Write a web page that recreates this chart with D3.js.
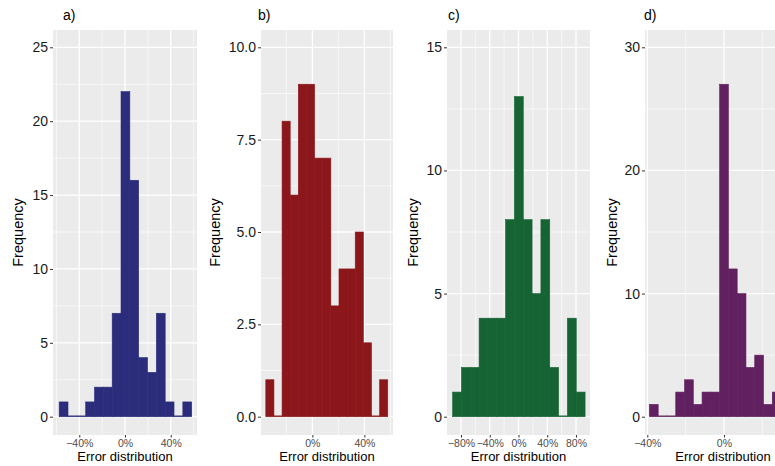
<!DOCTYPE html>
<html>
<head>
<meta charset="utf-8">
<script src="https://cdn.jsdelivr.net/npm/d3@7"></script>
<style>
  body { margin: 0; background: #fff; }
  svg { display: block; font-family: "Liberation Sans", Arial, sans-serif; }
</style>
</head>
<body>
<svg id="chart" width="775" height="466"></svg>
<script>
// histogram bins (lower edges + last upper edge, in % error) and counts
var aEdges  = [-57.6, -49.87, -42.14, -34.41, -26.68, -18.95, -11.22, -3.49, 4.24, 11.97, 19.7, 27.43, 35.16, 42.89, 50.62, 58.35];
var aCounts = [1, 0, 0, 1, 2, 2, 7, 22, 16, 4, 3, 7, 1, 0, 1];

var bEdges  = [-35.8, -29.55, -23.3, -17.05, -10.8, -4.55, 1.7, 7.95, 14.2, 20.45, 26.7, 32.95, 39.2, 45.45, 51.7, 57.95];
var bCounts = [1, 0, 8, 6, 9, 9, 7, 7, 3, 4, 4, 5, 2, 0, 1];

var cEdges  = [-91.7, -79.41, -67.12, -54.83, -42.54, -30.25, -17.96, -5.67, 6.62, 18.91, 31.2, 43.49, 55.78, 68.07, 80.36, 92.65];
var cCounts = [1, 2, 2, 4, 4, 4, 8, 13, 8, 5, 8, 2, 0, 4, 1];

var dEdges  = [-38.9, -34.32, -29.74, -25.16, -20.58, -16.0, -11.42, -6.84, -2.26, 2.32, 6.9, 11.48, 16.06, 20.64, 25.22, 29.8];
var dCounts = [1, 0, 0, 2, 3, 1, 2, 2, 27, 12, 10, 4, 5, 1, 2];

// tick labels
var aYTicks = [0, 5, 10, 15, 20, 25],   aXTicks = [-40, 0, 40];
var bYTicks = [0, 2.5, 5, 7.5, 10],     bXTicks = [-40, 0, 40];
var cYTicks = [0, 5, 10, 15],           cXTicks = [-80, -40, 0, 40, 80];
var dYTicks = [0, 10, 20, 30],          dXTicks = [-40, 0, 40];

var titles = ["a)", "b)", "c)", "d)"];

// layout for each panel
var panels = [
  { title: titles[0], edges: aEdges, counts: aCounts, yTicks: aYTicks, xTicks: aXTicks, yFmt: "d",
    left: 53, right: 197, xLim: [-63, 63], titleX: 63, yTitleX: 18, fill: "#2b2c7b" },
  { title: titles[1], edges: bEdges, counts: bCounts, yTicks: bYTicks, xTicks: bXTicks, yFmt: ".1f",
    left: 261, right: 393, xLim: [-39.5, 62], titleX: 258, yTitleX: 215, fill: "#8b171b" },
  { title: titles[2], edges: cEdges, counts: cCounts, yTicks: cYTicks, xTicks: cXTicks, yFmt: "d",
    left: 447, right: 590, xLim: [-99.5, 99.5], titleX: 448, yTitleX: 413, fill: "#166333" },
  { title: titles[3], edges: dEdges, counts: dCounts, yTicks: dYTicks, xTicks: dXTicks, yFmt: "d",
    left: 645, right: 801, xLim: [-41.2, 40.2], titleX: 644, yTitleX: 612, fill: "#61205f" }
];

var panelTop = 30, panelBottom = 435,
    yZero = 416.7, yTopTick = 47.3;

var svg = d3.select("#chart");

// minor grid positions: half way between majors, plus one half-step past each end
function minors(ticks) {
  var step = ticks[1] - ticks[0], out = [ticks[0] - step / 2];
  ticks.forEach(function(t) { out.push(t + step / 2); });
  return out;
}

panels.forEach(function(p) {
  var x = d3.scaleLinear().domain(p.xLim).range([p.left, p.right]);
  var y = d3.scaleLinear().domain([0, d3.max(p.yTicks)]).range([yZero, yTopTick]);
  var yLim = [y.invert(panelBottom), y.invert(panelTop)];

  var g = svg.append("g");

  g.append("rect")
    .attr("x", p.left).attr("y", panelTop)
    .attr("width", p.right - p.left).attr("height", panelBottom - panelTop)
    .style("fill", "#ebebeb");

  var inX = function(v) { return v >= p.xLim[0] && v <= p.xLim[1]; };
  var inY = function(v) { return v >= yLim[0] && v <= yLim[1]; };

  // minor grid
  g.selectAll("line.ymin").data(minors(p.yTicks).filter(inY)).enter().append("line")
    .attr("x1", p.left).attr("x2", p.right)
    .attr("y1", function(d) { return y(d); }).attr("y2", function(d) { return y(d); })
    .style("stroke", "#fff").style("stroke-width", 0.6);
  g.selectAll("line.xmin").data(minors(p.xTicks).filter(inX)).enter().append("line")
    .attr("y1", panelTop).attr("y2", panelBottom)
    .attr("x1", function(d) { return x(d); }).attr("x2", function(d) { return x(d); })
    .style("stroke", "#fff").style("stroke-width", 0.6);

  // major grid
  g.selectAll("line.ymaj").data(p.yTicks).enter().append("line")
    .attr("x1", p.left).attr("x2", p.right)
    .attr("y1", function(d) { return y(d); }).attr("y2", function(d) { return y(d); })
    .style("stroke", "#fff").style("stroke-width", 1.3);
  g.selectAll("line.xmaj").data(p.xTicks.filter(inX)).enter().append("line")
    .attr("y1", panelTop).attr("y2", panelBottom)
    .attr("x1", function(d) { return x(d); }).attr("x2", function(d) { return x(d); })
    .style("stroke", "#fff").style("stroke-width", 1.3);

  // bars (empty bins still show a thin line at zero, as in ggplot)
  g.selectAll("rect.bar").data(p.counts).enter().append("rect")
    .attr("class", "bar")
    .attr("x", function(d, i) { return x(p.edges[i]); })
    .attr("width", function(d, i) { return x(p.edges[i + 1]) - x(p.edges[i]); })
    .attr("y", function(d) { return Math.min(y(d), y(0) - 0.8); })
    .attr("height", function(d) { return Math.max(y(0) - y(d), 0.8); })
    .style("fill", p.fill)
    .style("stroke", p.fill)
    .style("stroke-width", 0.6);

  // y axis
  var yAxis = g.append("g")
    .attr("transform", "translate(" + p.left + ",0)")
    .call(d3.axisLeft(y).tickValues(p.yTicks).tickFormat(d3.format(p.yFmt)).tickSize(3).tickPadding(2));
  yAxis.select(".domain").remove();
  yAxis.selectAll("line").style("stroke", "#333").style("stroke-width", 1);
  yAxis.selectAll("text").style("font-size", "14px").style("fill", "#1a1a1a")
    .style("font-family", "Liberation Sans, Arial, sans-serif");

  // x axis
  var xAxis = g.append("g")
    .attr("transform", "translate(0," + panelBottom + ")")
    .call(d3.axisBottom(x).tickValues(p.xTicks.filter(inX))
      .tickFormat(function(d) { return d3.format("d")(d) + "%"; }).tickSize(2.5).tickPadding(2));
  xAxis.select(".domain").remove();
  xAxis.selectAll("line").style("stroke", "#333").style("stroke-width", 1);
  xAxis.selectAll("text").style("font-size", "10.5px").style("fill", "#4d4d4d")
    .style("font-family", "Liberation Sans, Arial, sans-serif");

  // titles
  g.append("text")
    .attr("x", (p.left + p.right) / 2).attr("y", 461)
    .attr("text-anchor", "middle")
    .style("font-size", "13px").style("fill", "#000")
    .text("Error distribution");

  g.append("text")
    .attr("transform", "translate(" + p.yTitleX + "," + ((panelTop + panelBottom) / 2) + ") rotate(-90)")
    .attr("dy", "0.35em")
    .attr("text-anchor", "middle")
    .style("font-size", "14.5px").style("fill", "#000")
    .text("Frequency");

  g.append("text")
    .attr("x", p.titleX).attr("y", 20)
    .style("font-size", "14px").style("fill", "#000")
    .text(p.title);
});
</script>
</body>
</html>
